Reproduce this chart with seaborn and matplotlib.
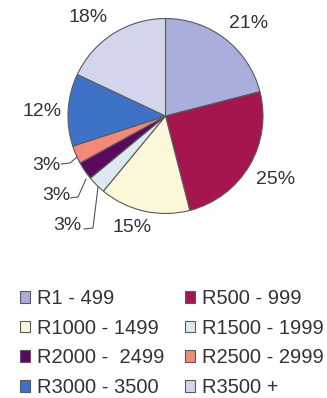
import matplotlib
matplotlib.use("Agg")
import matplotlib.pyplot as plt
import seaborn as sns

# Monthly spend brackets and their share of respondents
categories = ["R1 - 499", "R500 - 999", "R1000 - 1499", "R1500 - 1999",
              "R2000 -  2499", "R2500 - 2999", "R3000 - 3500", "R3500 +"]
shares = [21, 25, 15, 3, 3, 3, 12, 18]
pct_labels = [f"{v}%" for v in shares]
colors = ["#A9AEDC", "#A5154F", "#FBF8DA", "#DDE9EF",
          "#5A0A5C", "#F4887A", "#3D72C8", "#D3D5EC"]

sns.set_theme(style="white")
plt.rcParams["font.family"] = ["Liberation Sans", "DejaVu Sans"]
TEXT = "#333333"

W, H = 327, 398
fig = plt.figure(figsize=(W / 100, H / 100), dpi=100)

# pie centre / radius in pixels
cx, cy, R = 165.5, 116.0, 97.5
L = 1.5
side = 2 * L * R
ax = fig.add_axes([(cx - side / 2) / W, (H - cy - side / 2) / H, side / W, side / H])

wedges, _ = ax.pie(shares, colors=colors, startangle=90, counterclock=False,
                   radius=1.0,
                   wedgeprops=dict(edgecolor="#5a5a5a", linewidth=0.8))
ax.set_xlim(-L, L)
ax.set_ylim(-L, L)
ax.set_aspect("equal")
ax.axis("off")


def px(x, y):
    """pixel position -> data coordinates of the pie axes"""
    return (x - cx) / R, (cy - y) / R


# label centres (pixels)
label_px = [(249, 23), (276, 180), (132, 227), (67, 226),
            (56, 195), (46, 165), (42, 112), (88, 17)]
for txt, (lx, ly) in zip(pct_labels, label_px):
    x, y = px(lx, ly)
    ax.text(x, y, txt, ha="center", va="center", fontsize=14, color=TEXT)

# leader lines for the three thin slices
leaders = {3: [(84, 229), (93, 228), (98, 187)],
           4: [(70, 198), (78, 197), (86, 179)],
           5: [(61, 164), (70, 163), (77, 157)]}
for idx, pts in leaders.items():
    xs, ys = zip(*[px(a, b) for a, b in pts])
    ax.plot(xs, ys, color="#555555", lw=0.8, solid_joinstyle="miter")

# legend fills row by row: reorder for matplotlib's column-major layout
order = [0, 2, 4, 6, 1, 3, 5, 7]
leg = ax.legend([wedges[i] for i in order], [categories[i] for i in order],
                ncol=2, loc="upper left",
                bbox_to_anchor=(20 / W, 1 - 289 / H),
                bbox_transform=fig.transFigure, frameon=False,
                fontsize=14.5, handlelength=0.5, handleheight=0.5,
                handletextpad=0.36, columnspacing=1.0, labelspacing=0.53,
                borderpad=0, borderaxespad=0, labelcolor=TEXT)

fig.savefig("out.png", dpi=100, facecolor="white")
